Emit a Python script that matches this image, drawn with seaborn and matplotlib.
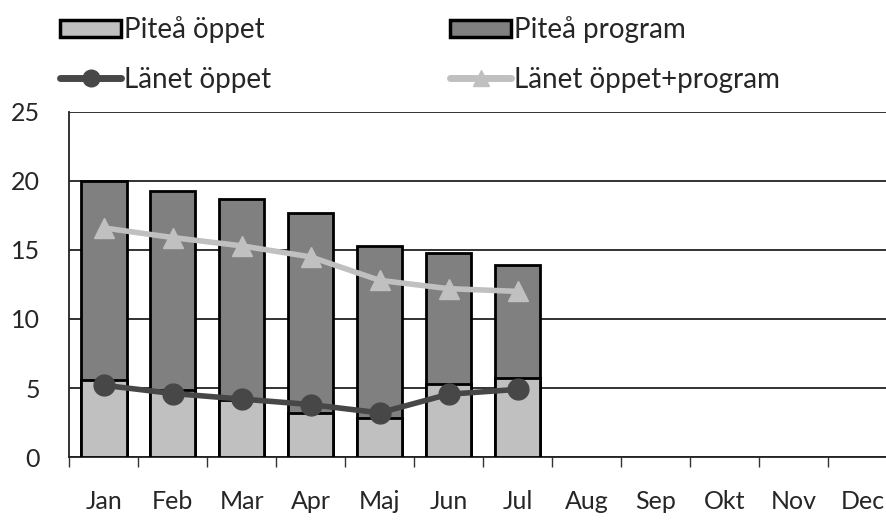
import matplotlib
matplotlib.use('Agg')
import matplotlib.pyplot as plt
import seaborn as sns
import numpy as np
from matplotlib.lines import Line2D
from matplotlib.patches import Patch

# Data
months = ['Jan', 'Feb', 'Mar', 'Apr', 'Maj', 'Jun', 'Jul',
          'Aug', 'Sep', 'Okt', 'Nov', 'Dec']
data_months = months[:7]
pitea_oppet = [5.6, 4.85, 4.1, 3.2, 2.8, 5.3, 5.7]
pitea_total = [20.0, 19.3, 18.7, 17.7, 15.3, 14.8, 13.9]
pitea_program = [t - o for t, o in zip(pitea_total, pitea_oppet)]
lanet_oppet = [5.2, 4.6, 4.2, 3.8, 3.2, 4.55, 4.9]
lanet_oppet_program = [16.6, 15.9, 15.3, 14.5, 12.8, 12.2, 12.0]

sns.set_style('white')
plt.rcParams['font.family'] = ['Lato', 'DejaVu Sans']

light = '#c0c0c0'
dark = '#808080'
line_dark = '#474747'

fig = plt.figure(figsize=(8.87, 5.22), dpi=100)
ax = fig.add_axes([0.0781, 0.1245, 0.933, 0.661])

# stacked bars: full height in dark, bottom part in light on top of it
sns.barplot(x=data_months, y=pitea_total, order=months, color=dark,
            saturation=1, width=0.66, edgecolor='black', linewidth=2,
            errorbar=None, ax=ax, zorder=3)
sns.barplot(x=data_months, y=pitea_oppet, order=months, color=light,
            saturation=1, width=0.66, edgecolor='black', linewidth=2,
            errorbar=None, ax=ax, zorder=3)

x = np.arange(len(data_months))
ax.plot(x, lanet_oppet, color=line_dark, lw=4, marker='o', ms=15,
        zorder=5)
ax.plot(x, lanet_oppet_program, color=light, lw=4, marker='^', ms=15,
        zorder=5)

ax.set_ylim(0, 25)
ax.set_xlim(-0.5, 11.5)
ax.set_yticks(range(0, 26, 5))
ax.yaxis.grid(True, color='#222222', lw=1.3, zorder=0)
ax.set_axisbelow(True)
ax.tick_params(axis='y', length=0, pad=21, labelsize=18)

ax.set_xticks(np.arange(-0.5, 12, 1))
ax.set_xticklabels([])
ax.set_xticks(np.arange(12), minor=True)
ax.set_xticklabels(months, minor=True)
ax.tick_params(axis='x', which='major', length=7, width=1, color='#333333',
               direction='out', bottom=True)
ax.tick_params(axis='x', which='minor', length=0, pad=24, labelsize=18)
ax.set_xlabel('')
ax.set_ylabel('')

for s in ['top', 'right']:
    ax.spines[s].set_visible(False)
ax.spines['left'].set_color('#222222')
ax.spines['bottom'].set_color('#222222')
ax.spines['left'].set_linewidth(1.3)
ax.spines['bottom'].set_linewidth(1.3)

col1 = [
    Patch(facecolor=light, edgecolor='black', linewidth=2.5, label='Piteå öppet'),
    Line2D([], [], color=line_dark, lw=5, marker='o', ms=12, label='Länet öppet'),
]
col2 = [
    Patch(facecolor=dark, edgecolor='black', linewidth=2.5, label='Piteå program'),
    Line2D([], [], color=light, lw=5, marker='^', ms=12, label='Länet öppet+program'),
]
for hs, xpos in [(col1, 60 / 887), (col2, 450 / 887)]:
    fig.legend(handles=hs, loc='center left', bbox_to_anchor=(xpos, 0.8956),
               frameon=False, fontsize=20, handlelength=2.2,
               handleheight=0.55, handletextpad=0.12, labelspacing=0.83,
               borderpad=0, borderaxespad=0)

fig.savefig('out.png', dpi=100)
